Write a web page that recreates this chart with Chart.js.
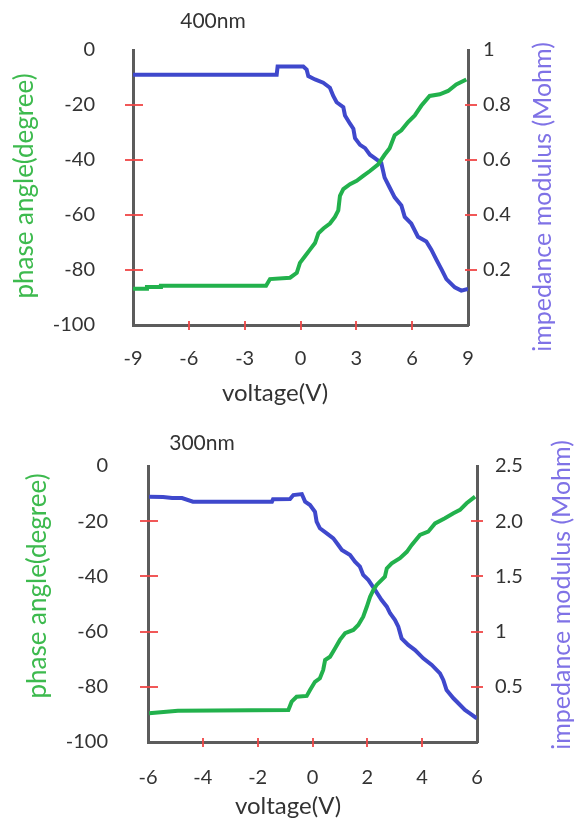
<!DOCTYPE html>
<html><head><meta charset="utf-8">
<script src="https://cdn.jsdelivr.net/npm/chart.js@4.4.1/dist/chart.umd.min.js"></script>
<style>
html,body{margin:0;padding:0;background:#fff;overflow:hidden}
#wrap{position:relative;width:575px;height:823px}
canvas{position:absolute;left:0}
</style></head><body>
<div id="wrap">
<canvas id="c1" width="575" height="410" style="top:0"></canvas>
<canvas id="c2" width="575" height="413" style="top:410px"></canvas>
</div>
<script>
// ---------- data: 400nm panel ----------
const topTitle = '400nm';
const topVoltageTicks = [-9, -6, -3, 0, 3, 6, 9];
const topPhaseTicks = [0, -20, -40, -60, -80, -100];
const topModTicks = [0, 0.2, 0.4, 0.6, 0.8, 1];
const topModTickLabels = ['', '0.2', '0.4', '0.6', '0.8', '1'];
const topPhaseVoltage = [-9, -8.25, -8.25, -7.5, -7.5, -1.85, -1.64, -0.56, -0.2, -0.03, 0.24, 0.51, 0.78, 0.96, 1.23, 1.58, 1.85, 2.03, 2.12, 2.3, 2.66, 3.02, 3.37, 3.73, 4.16, 4.52, 4.79, 5.06, 5.42, 5.78, 6.14, 6.49, 6.94, 7.48, 7.93, 8.37, 8.91];
const topPhaseDegree = [-86.8, -86.8, -86.2, -86.2, -85.7, -85.7, -83.3, -82.8, -81.0, -77.4, -75.0, -72.6, -70.2, -66.7, -64.9, -63.1, -60.7, -58.3, -53.0, -50.6, -48.8, -47.6, -45.8, -44.0, -41.7, -38.1, -35.7, -31.0, -29.2, -26.2, -23.8, -20.3, -16.7, -16.1, -14.9, -12.5, -10.7];
const topModVoltage = [-9, -1.28, -1.23, 0.15, 0.33, 0.42, 0.78, 1.22, 1.58, 1.76, 1.94, 2.30, 2.39, 2.66, 2.84, 2.93, 3.20, 3.47, 3.73, 3.99, 4.34, 4.52, 4.79, 5.06, 5.42, 5.60, 5.95, 6.31, 6.76, 7.03, 7.30, 7.57, 7.84, 8.29, 8.64, 9.0];
const topModMohm = [0.91, 0.91, 0.94, 0.94, 0.929, 0.905, 0.893, 0.881, 0.863, 0.833, 0.81, 0.792, 0.762, 0.732, 0.714, 0.679, 0.655, 0.643, 0.619, 0.607, 0.589, 0.536, 0.5, 0.464, 0.435, 0.393, 0.369, 0.321, 0.304, 0.274, 0.238, 0.203, 0.167, 0.137, 0.125, 0.131];

// ---------- data: 300nm panel ----------
const bottomTitle = '300nm';
const bottomVoltageTicks = [-6, -4, -2, 0, 2, 4, 6];
const bottomPhaseTicks = [0, -20, -40, -60, -80, -100];
const bottomModTicks = [0, 0.5, 1, 1.5, 2, 2.5];
const bottomModTickLabels = ['', '0.5', '1', '1.5', '2.0', '2.5'];
const bottomPhaseVoltage = [-5.96, -4.91, -0.88, -0.76, -0.58, -0.21, -0.09, 0.09, 0.27, 0.39, 0.46, 0.64, 0.82, 1.00, 1.19, 1.49, 1.67, 1.85, 1.98, 2.10, 2.22, 2.34, 2.64, 2.71, 2.89, 3.19, 3.44, 3.62, 3.92, 4.22, 4.47, 4.83, 5.14, 5.38, 5.62, 5.93];
const bottomPhaseDegree = [-89.6, -88.7, -88.4, -85.4, -83.6, -83.3, -81.2, -78.2, -76.9, -73.9, -70.3, -69.1, -66.1, -63.0, -60.6, -59.4, -57.6, -54.6, -51.0, -47.4, -44.9, -43.1, -40.1, -37.1, -35.3, -33.4, -31.1, -28.6, -25.0, -23.8, -20.8, -18.9, -17.1, -15.9, -13.5, -11.1];
const bottomModVoltage = [-5.96, -5.45, -5.12, -4.76, -4.36, -1.48, -1.44, -0.82, -0.70, -0.39, -0.27, -0.09, 0.09, 0.15, 0.27, 0.52, 0.76, 0.94, 1.07, 1.37, 1.55, 1.73, 1.85, 2.04, 2.28, 2.52, 2.71, 2.83, 3.01, 3.13, 3.25, 3.49, 3.74, 4.04, 4.35, 4.65, 4.77, 4.89, 5.14, 5.32, 5.56, 5.74, 5.99];
const bottomModMohm = [2.222, 2.219, 2.21, 2.21, 2.177, 2.177, 2.198, 2.201, 2.237, 2.246, 2.177, 2.147, 2.086, 1.996, 1.936, 1.89, 1.845, 1.784, 1.739, 1.694, 1.633, 1.588, 1.513, 1.467, 1.377, 1.286, 1.226, 1.166, 1.105, 1.044, 0.939, 0.879, 0.833, 0.758, 0.698, 0.622, 0.562, 0.471, 0.396, 0.351, 0.29, 0.26, 0.215];

const xTitle = 'voltage(V)';
const leftTitle = 'phase angle(degree)';
const rightTitle = 'impedance modulus (Mohm)';

// ---------- styling ----------
const TEXT = '#333333';
const GREEN = '#22b14c';
const BLUE = '#3f48cc';
const TITLE_GREEN = '#3dba4e';
const TITLE_BLUE = '#7f72e6';
const FRAME = '#5c5c5c';
const RED = 'rgba(240,70,70,0.9)';
const FONT = 'Lato, "Open Sans", sans-serif';
Chart.defaults.font.family = FONT;
Chart.defaults.color = TEXT;

const pairs = (xs, ys) => xs.map((x, i) => ({x: x, y: ys[i]}));
const setTicks = (arr) => (scale) => { scale.ticks = arr.map(v => ({value: v})); };

const redTicks = {
  id: 'redTicks',
  afterDraw(chart, args, o) {
    const ctx = chart.ctx;
    ctx.save();
    ctx.strokeStyle = RED;
    ctx.lineWidth = 2;
    const sx = chart.scales.x, sy = chart.scales.y, sy1 = chart.scales.y1;
    ctx.beginPath();
    for (let i = 1; i < sx.ticks.length - 1; i++) {
      const p = Math.round(sx.getPixelForValue(sx.ticks[i].value));
      ctx.moveTo(p, sx.top - o.x[0]); ctx.lineTo(p, sx.top + o.x[1]);
    }
    for (let i = 1; i < sy.ticks.length - 1; i++) {
      const p = Math.round(sy.getPixelForValue(sy.ticks[i].value));
      ctx.moveTo(sy.right - o.y[0], p); ctx.lineTo(sy.right + o.y[1], p);
    }
    for (let i = 1; i < sy1.ticks.length - 1; i++) {
      const p = Math.round(sy1.getPixelForValue(sy1.ticks[i].value));
      ctx.moveTo(sy1.left - o.y1[0], p); ctx.lineTo(sy1.left + o.y1[1], p);
    }
    ctx.stroke();
    ctx.restore();
  }
};

// panel title and axis titles (text placed as in the reference figure)
const panelTexts = {
  id: 'panelTexts',
  afterDraw(chart, args, o) {
    const ctx = chart.ctx;
    o.items.forEach(it => {
      ctx.save();
      ctx.font = it.size + 'px ' + FONT;
      ctx.fillStyle = it.color;
      ctx.textAlign = 'center';
      ctx.textBaseline = 'middle';
      ctx.translate(it.x, it.y);
      if (it.rot) ctx.rotate(-Math.PI / 2);
      ctx.fillText(it.text, 0, 0);
      ctx.restore();
    });
  }
};

function makePanel(canvasId, p) {
  const axisBorder = {display: true, color: FRAME, width: 3};
  const grid = {display: true, drawOnChartArea: false, drawTicks: false};
  return new Chart(document.getElementById(canvasId), {
    type: 'line',
    data: {
      datasets: [
        {label: 'phase angle', data: pairs(p.phaseV, p.phaseD), yAxisID: 'y',
         borderColor: GREEN, borderWidth: 4, pointRadius: 0, tension: 0, fill: false},
        {label: 'impedance modulus', data: pairs(p.modV, p.modZ), yAxisID: 'y1',
         borderColor: BLUE, borderWidth: 4, pointRadius: 0, tension: 0, fill: false}
      ]
    },
    options: {
      responsive: false,
      animation: false,
      devicePixelRatio: 1,
      layout: {padding: {top: p.padTop, left: 0, right: 0, bottom: 0}},
      plugins: {
        legend: {display: false},
        tooltip: {enabled: false},
        redTicks: p.tickLens,
        panelTexts: {items: [
          {text: p.title, x: p.titlePos[0], y: p.titlePos[1], size: 21, color: TEXT},
          {text: xTitle, x: p.xTitlePos[0], y: p.xTitlePos[1], size: 24, color: TEXT},
          {text: leftTitle, x: p.leftTitlePos[0], y: p.leftTitlePos[1], size: 26, color: TITLE_GREEN, rot: true},
          {text: rightTitle, x: p.rightTitlePos[0], y: p.rightTitlePos[1], size: 25, color: TITLE_BLUE, rot: true}
        ]}
      },
      scales: {
        x: {
          type: 'linear', position: 'bottom',
          min: p.xTicks[0], max: p.xTicks[p.xTicks.length - 1],
          afterBuildTicks: setTicks(p.xTicks),
          afterFit: (s) => { s.height = p.xHeight; },
          grid: grid, border: axisBorder,
          ticks: {font: {size: 20}, color: TEXT, padding: p.xPad, maxRotation: 0, autoSkip: false,
                  callback: (v) => String(v)}
        },
        y: {
          type: 'linear', position: 'left', min: -100, max: 0,
          afterBuildTicks: setTicks(p.phaseTicks),
          afterFit: (s) => { s.width = p.leftWidth; },
          grid: grid, border: axisBorder,
          ticks: {font: {size: 20}, color: TEXT, padding: p.yPad, autoSkip: false, callback: (v) => String(v)}
        },
        y1: {
          type: 'linear', position: 'right',
          min: p.modTicks[0], max: p.modTicks[p.modTicks.length - 1],
          afterBuildTicks: setTicks(p.modTicks),
          afterFit: (s) => { s.width = p.rightWidth; },
          grid: grid, border: axisBorder,
          ticks: {font: {size: 20}, color: TEXT, padding: p.y1Pad, autoSkip: false,
                  callback: (v, i) => p.modLabels[i]}
        }
      }
    },
    plugins: [redTicks, panelTexts]
  });
}

makePanel('c1', {
  phaseV: topPhaseVoltage, phaseD: topPhaseDegree, modV: topModVoltage, modZ: topModMohm,
  xTicks: topVoltageTicks, phaseTicks: topPhaseTicks, modTicks: topModTicks, modLabels: topModTickLabels,
  padTop: 45, leftWidth: 133, rightWidth: 107, xHeight: 85,
  xPad: 22, yPad: 38, y1Pad: 15,
  tickLens: {x: [4, 5], y: [8, 10], y1: [3, 9]},
  title: topTitle, titlePos: [213, 21], xTitlePos: [275, 393],
  leftTitlePos: [25, 186], rightTitlePos: [543, 197]
});

makePanel('c2', {
  phaseV: bottomPhaseVoltage, phaseD: bottomPhaseDegree, modV: bottomModVoltage, modZ: bottomModMohm,
  xTicks: bottomVoltageTicks, phaseTicks: bottomPhaseTicks, modTicks: bottomModTicks, modLabels: bottomModTickLabels,
  padTop: 56, leftWidth: 148, rightWidth: 98, xHeight: 81,
  xPad: 24, yPad: 40, y1Pad: 18,
  tickLens: {x: [4, 5], y: [8, 10], y1: [6, 6]},
  title: bottomTitle, titlePos: [202, 33], xTitlePos: [288, 396],
  leftTitlePos: [38, 176], rightTitlePos: [562, 185]
});
</script>
</body></html>
